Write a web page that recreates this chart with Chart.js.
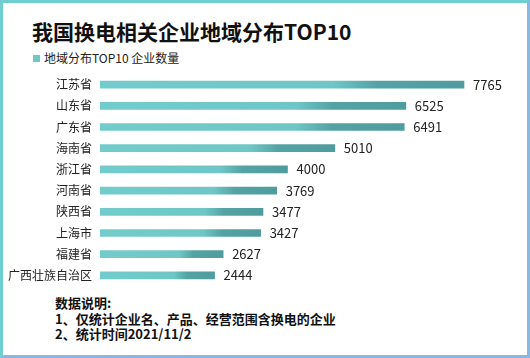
<!DOCTYPE html>
<html>
<head>
<meta charset="utf-8">
<script src="https://cdn.jsdelivr.net/npm/chart.js@4/dist/chart.umd.min.js"></script>
<style>
  body { margin: 0; background: #fff; }
  #frame {
    position: relative; width: 530px; height: 358px; box-sizing: border-box;
    border: 3px solid; border-color: #6fcfcf #8ab8e6 #8ab8e6 #6fcfcf;
    font-family: "Noto Sans CJK SC", sans-serif; overflow: hidden;
  }
  #title { position: absolute; left: 29px; top: 16px; font-size: 21px; font-weight: bold; color: #111; line-height: 24px; }
  #legend { position: absolute; left: 30px; top: 47px; font-size: 12px; color: #222; line-height: 16px; }
  #legend span.box { display: inline-block; width: 7px; height: 7px; background: #6fc8c8; margin-right: 4px; vertical-align: 1px; }
  #wrap { position: absolute; left: 0; top: 70px; width: 521px; height: 216px; }
  #notes { position: absolute; left: 52px; top: 292px; font-size: 13px; font-weight: bold; color: #111; line-height: 15.5px; }
</style>
</head>
<body>
<div id="frame">
  <div id="title"></div>
  <div id="legend"><span class="box"></span><span id="legendText"></span></div>
  <div id="wrap"><canvas id="barChart"></canvas></div>
  <div id="notes"></div>
</div>
<script>
// data
var titleText = "我国换电相关企业地域分布TOP10";
var seriesName = "地域分布TOP10 企业数量";
var regions = ["江苏省", "山东省", "广东省", "海南省", "浙江省", "河南省", "陕西省", "上海市", "福建省", "广西壮族自治区"];
var companyCount = [7765, 6525, 6491, 5010, 4000, 3769, 3477, 3427, 2627, 2444];
var notes = ["数据说明:", "1、仅统计企业名、产品、经营范围含换电的企业", "2、统计时间2021/11/2"];

document.getElementById("title").textContent = titleText;
document.getElementById("legendText").textContent = seriesName;
document.getElementById("notes").innerHTML = notes.join("<br>");

var ctx = document.getElementById("barChart");

// light teal fading into darker teal near the bar end
const barFill = (context) => {
    let chart = context.chart;
    let area = chart.chartArea;
    if (!area) return "#6fcac9";
    let x0 = chart.scales.x.getPixelForValue(0);
    let x1 = chart.scales.x.getPixelForValue(context.raw);
    let g = chart.ctx.createLinearGradient(x0, 0, x1, 0);
    g.addColorStop(0, "#72cccb");
    g.addColorStop(0.64, "#6ec7c6");
    g.addColorStop(0.76, "#54a3a4");
    g.addColorStop(1, "#4f9c9e");
    return g;
};

// value text after each bar
const valueLabels = {
    id: "valueLabels",
    afterDatasetsDraw(chart) {
        let c = chart.ctx;
        let meta = chart.getDatasetMeta(0);
        c.save();
        c.font = "13px 'Noto Sans CJK SC', sans-serif";
        c.fillStyle = "#222";
        c.textBaseline = "middle";
        meta.data.forEach((bar, i) => {
            c.fillText(companyCount[i], bar.x + 9, bar.y);
        });
        c.restore();
    }
};

var barChart = new Chart(ctx, {
    type: 'bar',
    data: {
        labels: regions,
        datasets: [
            {
                label: seriesName,
                data: companyCount,
                backgroundColor: barFill,
                barThickness: 7
            }
        ]
    },
    options: {
        indexAxis: 'y',
        responsive: true,
        maintainAspectRatio: false,
        animation: false,
        layout: { padding: { top: 1, bottom: 3, right: 49, left: 0 } },
        plugins: {
            legend: { display: false },
            tooltip: { enabled: false }
        },
        scales: {
            x: { display: false, min: 0, max: 8000 },
            y: {
                grid: { display: false, drawTicks: false },
                border: { display: false },
                ticks: {
                    color: "#222",
                    padding: 8,
                    font: { family: "'Noto Sans CJK SC', sans-serif", size: 12 }
                },
                afterFit: (scale) => {
                    scale.width = 97;
                    scale.paddingTop = 0;
                    scale.paddingBottom = 0;
                }
            }
        }
    },
    plugins: [valueLabels]
});
</script>
</body>
</html>
